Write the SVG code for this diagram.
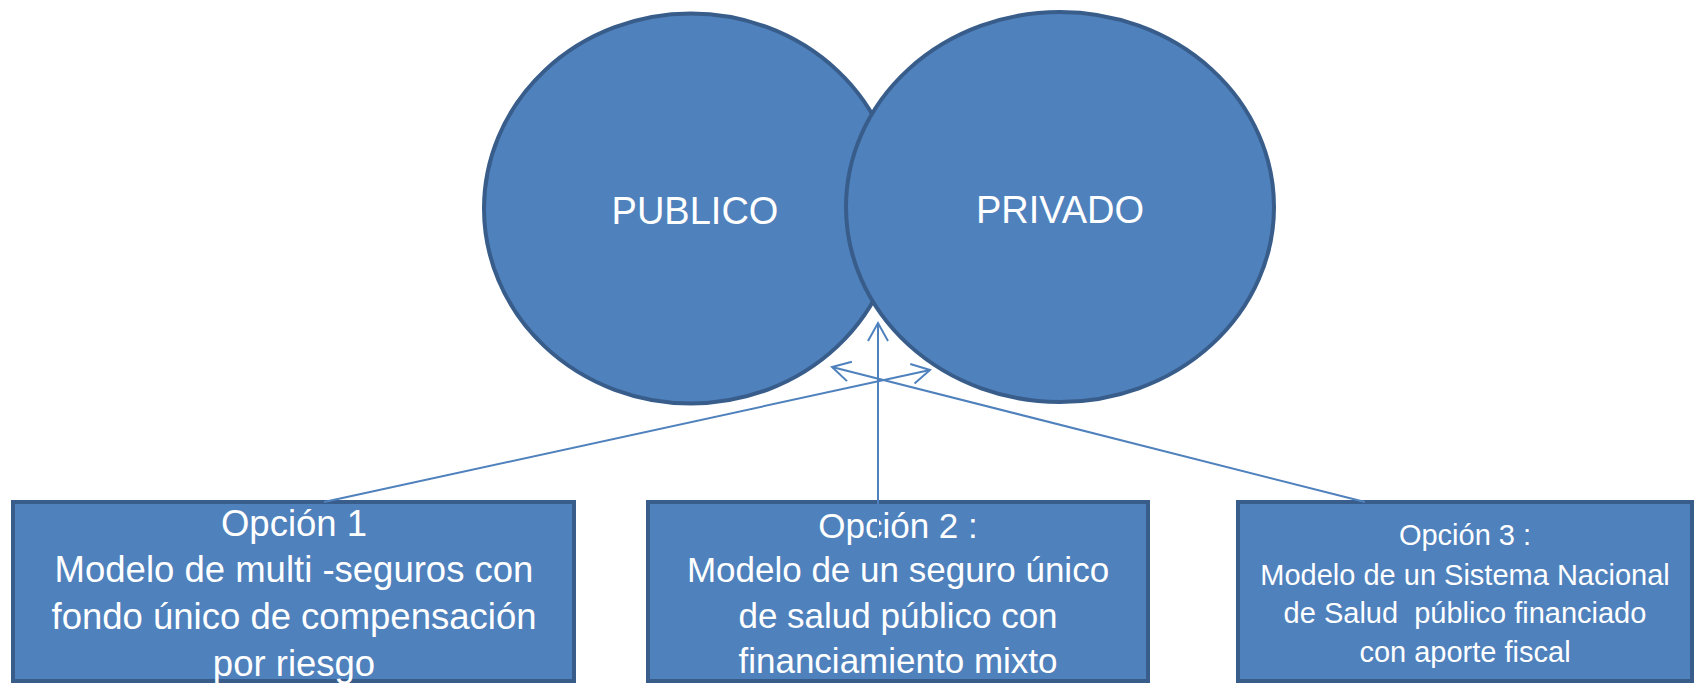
<svg xmlns="http://www.w3.org/2000/svg" width="1694" height="683" viewBox="0 0 1694 683">
<style>
.shape{fill:#4f81bd;stroke:#385d8a;stroke-width:4}
.lbl{fill:#ffffff;font-family:"Liberation Sans",Arial,sans-serif;text-anchor:middle}
.conn{stroke:#4f81bd;stroke-width:2;fill:none}
</style>
<defs>
<marker id="open" viewBox="-20 -12 24 24" markerWidth="24" markerHeight="24" refX="0" refY="0" orient="auto" markerUnits="userSpaceOnUse">
<path d="M-18,-10 L0,0 L-18,10" fill="none" stroke="#4f81bd" stroke-width="2"/>
</marker>
</defs>
<g id="publico">
<ellipse class="shape" cx="691" cy="208.5" rx="207" ry="195"/>
<text class="lbl" x="695" y="224" font-size="38">PUBLICO</text>
</g>
<g id="privado">
<ellipse class="shape" cx="1060" cy="207" rx="214" ry="195"/>
<text class="lbl" x="1060" y="223" font-size="38">PRIVADO</text>
</g>
<g id="opcion1">
<rect class="shape" x="13" y="502" width="561" height="179"/>
<text class="lbl" font-size="36.5"><tspan x="294" y="536">Opción 1</tspan><tspan x="294" y="582">Modelo de multi -seguros con</tspan><tspan x="294" y="629">fondo único de compensación</tspan><tspan x="294" y="676">por riesgo</tspan></text>
</g>
<g id="opcion2">
<rect class="shape" x="648" y="502" width="500" height="179"/>
<text class="lbl" font-size="35"><tspan x="898" y="538">Opción 2 :</tspan><tspan x="898" y="582">Modelo de un seguro único</tspan><tspan x="898" y="628">de salud público con</tspan><tspan x="898" y="673">financiamiento mixto</tspan></text>
</g>
<g id="opcion3">
<rect class="shape" x="1238" y="502" width="454" height="179"/>
<text class="lbl" font-size="29" style="white-space:pre"><tspan x="1465" y="545">Opción 3 :</tspan><tspan x="1465" y="585">Modelo de un Sistema Nacional</tspan><tspan x="1465" y="623">de Salud  público financiado</tspan><tspan x="1465" y="662">con aporte fiscal</tspan></text>
</g>
<g id="connectors">
<line class="conn" x1="324" y1="502" x2="930" y2="370" marker-end="url(#open)"/>
<line class="conn" x1="878" y1="545" x2="878" y2="323" marker-end="url(#open)"/>
<line class="conn" x1="1365" y1="502" x2="832" y2="367" marker-end="url(#open)"/>
</g>
</svg>
